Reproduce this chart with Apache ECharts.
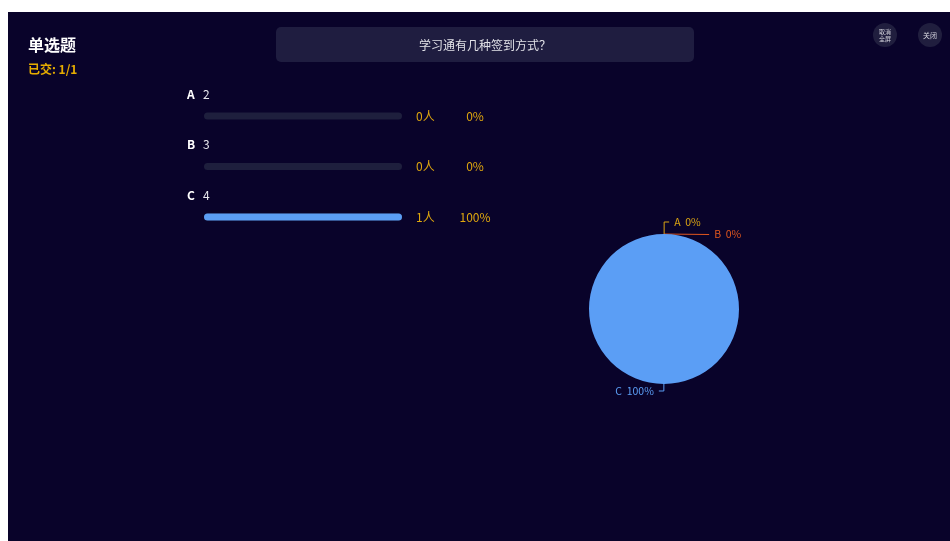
<!DOCTYPE html>
<html>
<head>
<meta charset="utf-8">
<script src="https://cdn.jsdelivr.net/npm/echarts@6/dist/echarts.min.js"></script>
<style>
html,body{margin:0;padding:0;background:#fff;width:950px;height:541px;overflow:hidden;}
#chart{position:absolute;left:8px;top:12px;width:942px;height:529px;background:#09032a;}
</style>
</head>
<body>
<div id="chart"></div>
<script>
const questionTitle = '学习通有几种签到方式？';
const optionLetters = ['A', 'B', 'C'];
const optionTexts = ['2', '3', '4'];
const optionCounts = [0, 0, 1];
const optionPercents = [0, 0, 100];
const pieColors = ['#dca512', '#e0561e', '#5b9ef5'];
const FONT = '"Noto Sans CJK SC", "Noto Sans", sans-serif';

const chart = echarts.init(document.getElementById('chart'));
chart.setOption({
  backgroundColor: '#09032a',
  textStyle: { fontFamily: FONT },
  animation: false,
  graphic: [
    { type: 'text', left: 20, top: 25, style: { text: '单选题', fill: '#ffffff', font: 'bold 16px ' + FONT } },
    { type: 'text', left: 20, top: 51, style: { text: '已交: 1/1', fill: '#e6ac00', font: 'bold 12px ' + FONT } },
    { type: 'rect', shape: { x: 268, y: 15, width: 418, height: 35, r: 5 }, style: { fill: '#1f1d40' } },
    { type: 'text', x: 477, y: 33, style: { text: questionTitle, fill: '#e2e2e8', font: '12px ' + FONT, align: 'center', verticalAlign: 'middle' } },
    { type: 'circle', shape: { cx: 877, cy: 23, r: 12 }, style: { fill: '#201e3e' } },
    { type: 'text', x: 877, y: 23, style: { text: '取消\n全屏', fill: '#d8d8e0', font: '6px ' + FONT, align: 'center', verticalAlign: 'middle', lineHeight: 7 } },
    { type: 'circle', shape: { cx: 922, cy: 23, r: 12 }, style: { fill: '#201e3e' } },
    { type: 'text', x: 922, y: 23, style: { text: '关闭', fill: '#d8d8e0', font: '7px ' + FONT, align: 'center', verticalAlign: 'middle' } }
  ],
  grid: { left: 196, width: 198, top: 78.75, height: 151.5 },
  xAxis: { type: 'value', min: 0, max: 100, show: false },
  yAxis: {
    type: 'category',
    inverse: true,
    data: optionLetters,
    axisLine: { show: false },
    axisTick: { show: false },
    axisLabel: {
      align: 'left',
      margin: 17,
      verticalAlign: 'bottom',
      padding: [0, 0, 16, 0],
      formatter: function (v, i) { return '{l|' + v + '}{t|' + optionTexts[i] + '}'; },
      rich: {
        l: { color: '#ffffff', fontWeight: 'bold', fontSize: 12, width: 16, fontFamily: FONT },
        t: { color: '#e8e8ee', fontSize: 12, fontFamily: FONT }
      }
    }
  },
  series: [
    {
      type: 'bar',
      data: optionPercents,
      barWidth: 7,
      showBackground: true,
      backgroundStyle: { color: '#1e1f3d', borderRadius: 4 },
      itemStyle: { color: '#5b9ef5', borderRadius: 4 },
      label: {
        show: true,
        position: 'insideLeft',
        offset: [207, 0],
        formatter: function (p) { return '{n|' + optionCounts[p.dataIndex] + '人}{p|' + optionPercents[p.dataIndex] + '%}'; },
        rich: {
          n: { color: '#e0a80e', fontSize: 12, width: 43, fontFamily: FONT },
          p: { color: '#e0a80e', fontSize: 12, width: 32, align: 'center', fontFamily: FONT }
        }
      }
    },
    {
      type: 'pie',
      center: [656, 297],
      radius: 75,
      startAngle: 89.9,
      data: optionLetters.map(function (l, i) {
        const item = { name: l, value: optionCounts[i], itemStyle: { color: pieColors[i] }, label: { color: pieColors[i] } };
        if (i === 2) item.labelLine = { length: 7 };
        return item;
      }),
      label: { show: true, formatter: '{b}  {d}%', fontSize: 10.5, fontFamily: FONT },
      labelLine: { show: true, length: 12, length2: 5 },
      emphasis: { disabled: true }
    }
  ]
});
</script>
</body>
</html>
